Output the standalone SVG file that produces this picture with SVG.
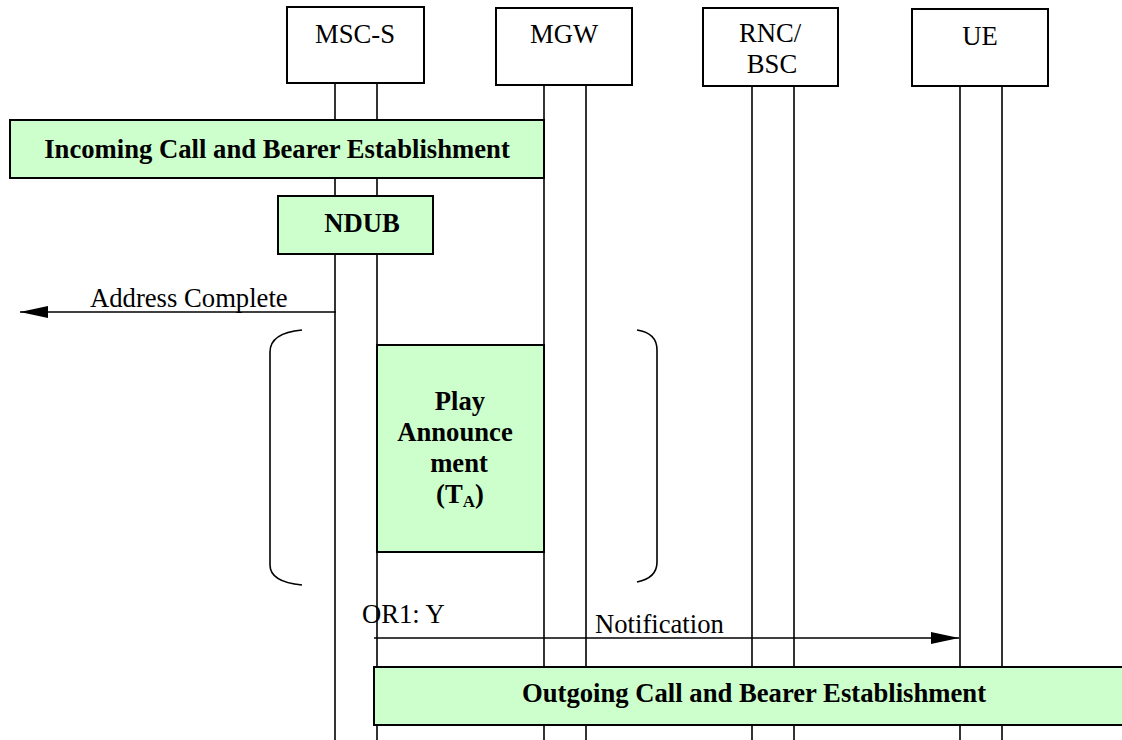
<svg xmlns="http://www.w3.org/2000/svg" width="1122" height="740" viewBox="0 0 1122 740">
<style>
.txt{font-family:"Liberation Serif","Times New Roman",serif;font-size:26.67px;fill:#000}
.b{font-weight:bold}
.box{fill:#fff;stroke:#000;stroke-width:2}
.act{fill:#ccffcc;stroke:#000;stroke-width:2}
.life{stroke:#000;stroke-width:1.6;fill:none}
.msg{stroke:#000;stroke-width:1.6;fill:none}
.brk{stroke:#000;stroke-width:1.6;fill:none}
</style>
<defs>
<marker id="ah" markerWidth="28" markerHeight="12" refX="28" refY="6" orient="auto" markerUnits="userSpaceOnUse">
<path d="M0,0 L28,6 L0,12 Z" fill="#000"/>
</marker>
</defs>
<rect width="1122" height="740" fill="#fff"/>
<g id="lifelines">
<line class="life" x1="335" y1="83" x2="335" y2="740"/>
<line class="life" x1="377" y1="83" x2="377" y2="740"/>
<line class="life" x1="544" y1="85" x2="544" y2="740"/>
<line class="life" x1="586" y1="85" x2="586" y2="740"/>
<line class="life" x1="752" y1="86" x2="752" y2="740"/>
<line class="life" x1="794" y1="86" x2="794" y2="740"/>
<line class="life" x1="960" y1="86" x2="960" y2="740"/>
<line class="life" x1="1002" y1="86" x2="1002" y2="740"/>
</g>
<g id="msc-s">
<rect class="box" x="287" y="7" width="137" height="76"/>
<text class="txt" x="355" y="43" text-anchor="middle">MSC-S</text>
</g>
<g id="mgw">
<rect class="box" x="496" y="8" width="136" height="77"/>
<text class="txt" x="564" y="43" text-anchor="middle">MGW</text>
</g>
<g id="rnc-bsc">
<rect class="box" x="703" y="8" width="135" height="78"/>
<text class="txt" x="770" y="42" text-anchor="middle">RNC/</text>
<text class="txt" x="772" y="73" text-anchor="middle">BSC</text>
</g>
<g id="ue">
<rect class="box" x="912" y="9" width="136" height="77"/>
<text class="txt" x="980" y="45" text-anchor="middle">UE</text>
</g>
<g id="incoming">
<rect class="act" x="10" y="120" width="534" height="58"/>
<text class="txt b" x="277" y="158" text-anchor="middle">Incoming Call and Bearer Establishment</text>
</g>
<g id="ndub">
<rect class="act" x="278" y="196" width="155" height="58"/>
<text class="txt b" x="362" y="232" text-anchor="middle">NDUB</text>
</g>
<g id="play">
<rect class="act" x="377" y="345" width="167" height="207"/>
<text class="txt b" x="460" y="410" text-anchor="middle">Play</text>
<text class="txt b" x="455" y="441" text-anchor="middle">Announce</text>
<text class="txt b" x="459" y="472" text-anchor="middle">ment</text>
<text class="txt b" x="460" y="503" text-anchor="middle">(T<tspan font-size="17" dy="4">A</tspan><tspan dy="-4">)</tspan></text>
</g>
<g id="brackets">
<path class="brk" d="M302,330 Q270,333 270,352 L270,565 Q270,582 302,585"/>
<path class="brk" d="M637,330 Q657,333 657,350 L657,562 Q657,578 637,582"/>
</g>
<g id="outgoing">
<rect class="act" x="374" y="667" width="760" height="58"/>
<text class="txt b" x="754" y="702" text-anchor="middle">Outgoing Call and Bearer Establishment</text>
</g>
<g id="connectors">
<line class="msg" x1="336" y1="312" x2="20" y2="312" marker-end="url(#ah)"/>
<text class="txt" x="90" y="307">Address Complete</text>
<line class="msg" x1="374" y1="638" x2="959" y2="638" marker-end="url(#ah)"/>
<text class="txt" x="362" y="623">OR1: Y</text>
<text class="txt" x="595" y="633">Notification</text>
</g>
</svg>
